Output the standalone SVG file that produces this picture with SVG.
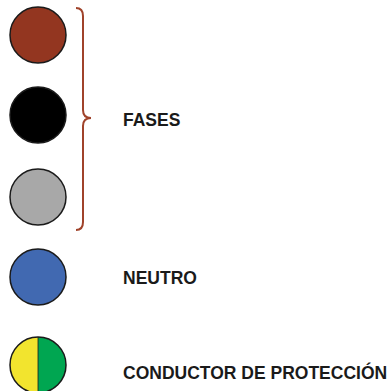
<svg xmlns="http://www.w3.org/2000/svg" width="390" height="391" viewBox="0 0 390 391">
<style>
.c{stroke:#1a1a1a;stroke-width:1.5}
.t{font-family:"Liberation Sans",Arial,sans-serif;font-weight:bold;font-size:17.5px;fill:#1a1a1a}
</style>
<rect width="390" height="391" fill="#fff"/>
<g id="fase1"><circle class="c" cx="38" cy="35" r="28" fill="#933620"/></g>
<g id="fase2"><circle class="c" cx="38" cy="115" r="28" fill="#000"/></g>
<g id="fase3"><circle class="c" cx="38" cy="197" r="28" fill="#a8a8a8"/></g>
<g id="neutro"><circle class="c" cx="38" cy="277" r="28" fill="#4169b1"/></g>
<g id="proteccion">
<path d="M38,337 A28,28 0 0 0 38,393 Z" fill="#f2e42e"/>
<path d="M38,337 A28,28 0 0 1 38,393 Z" fill="#00a651"/>
<line x1="38" y1="337" x2="38" y2="393" stroke="#1a1a1a" stroke-width="0.8"/>
<circle class="c" cx="38" cy="365" r="28" fill="none"/>
</g>
<g id="brace"><path d="M76,8 Q83,8 83,16 L83,110 Q83,118 91,118 Q83,118 83,126 L83,222 Q83,230 76,230" fill="none" stroke="#a0432b" stroke-width="2"/></g>
<g id="labels">
<text class="t" x="123" y="126">FASES</text>
<text class="t" x="123" y="284">NEUTRO</text>
<text class="t" x="123" y="379">CONDUCTOR DE PROTECCIÓN</text>
</g>
</svg>
